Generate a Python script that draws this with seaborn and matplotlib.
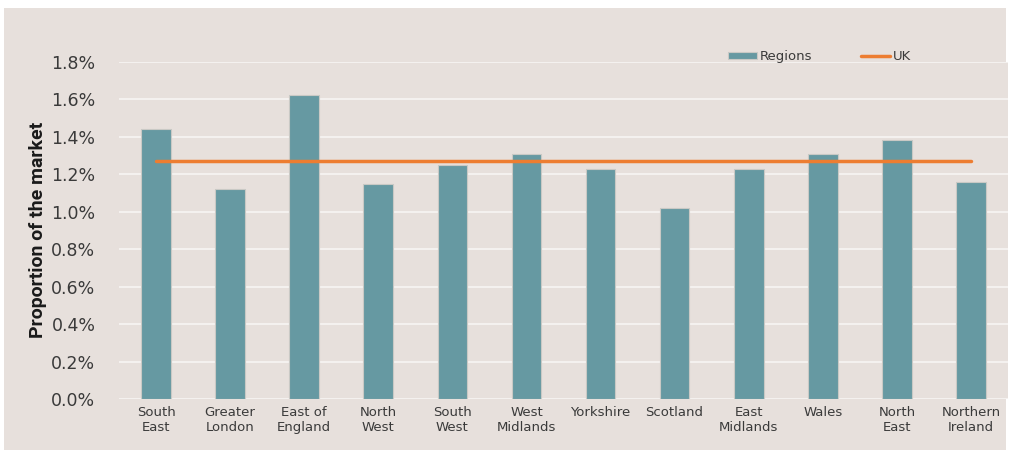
import matplotlib
matplotlib.use("Agg")
import matplotlib.pyplot as plt
import matplotlib.ticker as mticker
from matplotlib.patches import Rectangle
import seaborn as sns
import pandas as pd

# Data
regions = ["South\nEast", "Greater\nLondon", "East of\nEngland", "North\nWest", "South\nWest",
           "West\nMidlands", "Yorkshire", "Scotland", "East\nMidlands", "Wales",
           "North\nEast", "Northern\nIreland"]
share = [1.44, 1.12, 1.62, 1.15, 1.25, 1.31, 1.23, 1.02, 1.23, 1.31, 1.38, 1.16]
uk_share = [1.27] * len(regions)

df = pd.DataFrame({"Region": regions, "Share": share, "UK": uk_share})

bg = "#e7e0dc"
bar_color = "#6699a2"
line_color = "#ed7d31"
text_color = "#3a3a3a"

sns.set_theme(style="white")
plt.rcParams["font.family"] = ["DejaVu Sans"]

fig = plt.figure(figsize=(10.09, 4.5), dpi=100, facecolor="white")
fig.patches.append(Rectangle((4 / 1009, -0.01), 1002 / 1009, 447 / 450,
                             transform=fig.transFigure, facecolor=bg, edgecolor="none", zorder=-1))
ax = fig.add_axes([119 / 1009, 51 / 450, 889 / 1009, 335 / 450 + 0.005])
ax.set_facecolor(bg)

sns.barplot(data=df, x="Region", y="Share", color=bar_color, width=0.4,
            edgecolor="#c9c9c5", linewidth=0.8, saturation=1, ax=ax,
            label="Regions", zorder=3)
sns.lineplot(x=range(len(regions)), y=df["UK"], color=line_color, linewidth=2.5,
             ax=ax, label="UK", zorder=4)

ax.set_ylim(0, 1.8)
ax.set_xlim(-0.5, len(regions) - 0.5)
ax.yaxis.set_major_locator(mticker.MultipleLocator(0.2))
ax.yaxis.set_major_formatter(mticker.FuncFormatter(lambda v, p: f"{v:.1f}%"))
ax.grid(axis="y", color="#f4f1ef", linewidth=1.5, zorder=0)
ax.set_axisbelow(True)
for s in ax.spines.values():
    s.set_visible(False)

ax.tick_params(axis="y", length=0, labelsize=12.5, labelcolor=text_color, pad=17)
ax.tick_params(axis="x", length=0, labelsize=9.5, labelcolor=text_color, pad=5)
ax.set_xlabel("")
ax.set_ylabel("Proportion of the market", fontsize=14, fontweight="bold",
              family=["Roboto", "DejaVu Sans"], color="#1a1a1a", labelpad=3)

handles, labels = ax.get_legend_handles_labels()
order = [labels.index("Regions"), labels.index("UK")]
ax.legend([handles[i] for i in order], [labels[i] for i in order],
          loc="upper right", bbox_to_anchor=(0.904, 1.07), ncol=2, frameon=False,
          fontsize=9.5, handlelength=2.2, handleheight=0.5, columnspacing=3.7,
          handletextpad=0.2, labelcolor=text_color)

plt.savefig("out.png", dpi=100, facecolor="white")
